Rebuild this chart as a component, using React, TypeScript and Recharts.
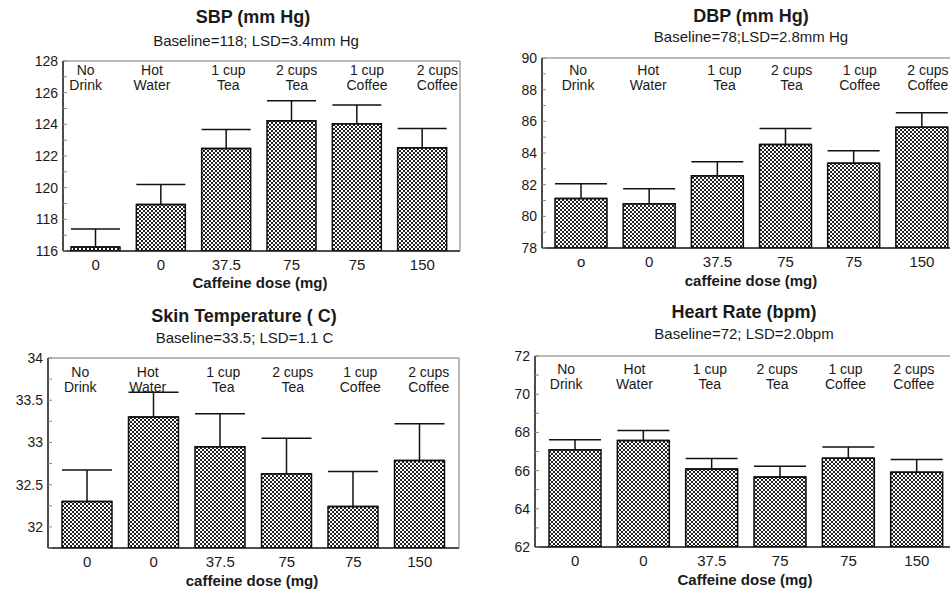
import React from "react";
import { BarChart, Bar, XAxis, YAxis, ErrorBar } from "recharts";

// drink conditions, printed inside the top of each plot
const drinks = [
    ["No", "Drink"],
    ["Hot", "Water"],
    ["1 cup", "Tea"],
    ["2 cups", "Tea"],
    ["1 cup", "Coffee"],
    ["2 cups", "Coffee"],
];
const doses = ["0", "0", "37.5", "75", "75", "150"];
const dosesDbp = ["o", "0", "37.5", "75", "75", "150"];

// means and the upward error
const sbpMean = [116.25, 118.93, 122.48, 124.23, 124.04, 122.52];
const sbpErr = [1.14, 1.27, 1.2, 1.26, 1.18, 1.22];
const dbpMean = [81.13, 80.79, 82.56, 84.53, 83.35, 85.63];
const dbpErr = [0.93, 0.95, 0.89, 1.01, 0.8, 0.91];
const skinMean = [32.3, 33.3, 32.95, 32.63, 32.24, 32.785];
const skinErr = [0.375, 0.295, 0.39, 0.42, 0.415, 0.435];
const hrMean = [67.09, 67.57, 66.08, 65.66, 66.65, 65.92];
const hrErr = [0.52, 0.53, 0.55, 0.57, 0.59, 0.66];

// y ticks (all tick marks) and the ones that carry a label
const sbpTicks = [116, 117, 118, 119, 120, 121, 122, 123, 124, 125, 126, 127, 128];
const sbpLabels = [116, 118, 120, 122, 124, 126, 128];
const dbpTicks = [78, 79, 80, 81, 82, 83, 84, 85, 86, 87, 88, 89, 90];
const dbpLabels = [78, 80, 82, 84, 86, 88, 90];
const skinTicks = [31.75, 32, 32.25, 32.5, 32.75, 33, 33.25, 33.5, 33.75, 34];
const skinLabels = [32, 32.5, 33, 33.5, 34];
const hrTicks = [62, 63, 64, 65, 66, 67, 68, 69, 70, 71, 72];
const hrLabels = [62, 64, 66, 68, 70, 72];

const FONT = "'Liberation Sans', Arial, Helvetica, sans-serif";
const INK = "#1a1a1a";
const Y_W = 50;
const X_H = 40;
const M_TOP = 12;
const TOP_H = 1;

const panels = [
    {
        id: "sbp",
        title: "SBP (mm Hg)",
        subtitle: "Baseline=118; LSD=3.4mm Hg",
        xTitle: "Caffeine dose (mg)",
        mean: sbpMean,
        err: sbpErr,
        doses: doses,
        ticks: sbpTicks,
        labels: sbpLabels,
        domain: [116, 128],
        left: 63,
        top: 61,
        right: 460,
        bottom: 251,
        pad: [0, 5],
        barSize: 49,
        catDy: 14,
        catDx: [-10, -9, 2, 5, 10, 15],
        titleX: 253,
        titleY: 23,
        subX: 256,
        subY: 45.5,
        xTitleX: 260,
        xTitleY: 287.5,
    },
    {
        id: "dbp",
        title: "DBP (mm Hg)",
        subtitle: "Baseline=78;LSD=2.8mm Hg",
        xTitle: "caffeine dose (mg)",
        mean: dbpMean,
        err: dbpErr,
        doses: dosesDbp,
        ticks: dbpTicks,
        labels: dbpLabels,
        domain: [78, 90],
        left: 542,
        top: 58,
        right: 961,
        bottom: 248,
        pad: [5, 5],
        barSize: 52,
        catDy: 16.5,
        catDx: [-3, -1, 7, 6, 6, 6],
        titleX: 751,
        titleY: 21.5,
        subX: 751,
        subY: 41.5,
        xTitleX: 751,
        xTitleY: 285.5,
    },
    {
        id: "skin",
        title: "Skin Temperature ( C)",
        subtitle: "Baseline=33.5; LSD=1.1 C",
        xTitle: "caffeine dose (mg)",
        mean: skinMean,
        err: skinErr,
        doses: doses,
        ticks: skinTicks,
        labels: skinLabels,
        domain: [31.75, 34],
        left: 48,
        top: 358,
        right: 459,
        bottom: 548,
        pad: [6, 6],
        barSize: 50,
        catDy: 18.5,
        catDx: [-7, -6, 3, 6, 7, 9],
        titleX: 244,
        titleY: 322,
        subX: 244.5,
        subY: 342.5,
        xTitleX: 252,
        xTitleY: 585.5,
    },
    {
        id: "hr",
        title: "Heart Rate (bpm)",
        subtitle: "Baseline=72; LSD=2.0bpm",
        xTitle: "Caffeine dose (mg)",
        mean: hrMean,
        err: hrErr,
        doses: doses,
        ticks: hrTicks,
        labels: hrLabels,
        domain: [62, 72],
        left: 535,
        top: 356,
        right: 957,
        bottom: 547,
        pad: [6, 6],
        barSize: 52,
        catDy: 18,
        catDx: [-9, -9, -2, -3, -3, -3],
        titleX: 744,
        titleY: 318,
        subX: 744,
        subY: 339,
        xTitleX: 745,
        xTitleY: 585,
    },
];

const YTick = ({ x, y, payload, labels }: any) => {
    const major = labels.includes(payload.value);
    return (
        <g>
            <line x1={x} x2={x + 4} y1={y} y2={y} stroke="#888" strokeWidth={1} />
            {major && (
                <text x={x - 5} y={y + 5} textAnchor="end" fontSize={14} fill={INK} fontFamily={FONT}>
                    {payload.value}
                </text>
            )}
        </g>
    );
};

const DoseTick = ({ x, y, payload }: any) => (
    <text x={x} y={y + 18.5} textAnchor="middle" fontSize={15} fill={INK} fontFamily={FONT}>
        {payload.value}
    </text>
);

const DrinkTick = ({ x, y, payload, dy, dx }: any) => {
    const lines = drinks[payload.index];
    const cx = x + dx[payload.index];
    return (
        <text textAnchor="middle" fontSize={14} fill={INK} fontFamily={FONT}>
            <tspan x={cx} y={y + dy}>{lines[0]}</tspan>
            <tspan x={cx} y={y + dy + 15}>{lines[1]}</tspan>
        </text>
    );
};

const Panel = ({ p }: any) => {
    const data = p.mean.map((m: number, i: number) => ({
        drink: drinks[i].join(" "),
        dose: p.doses[i],
        mean: m,
        err: [0, p.err[i]],
    }));
    const plotW = p.right - p.left;
    const plotH = p.bottom - p.top;

    return (
        <div style={{ position: "absolute", left: p.left - Y_W, top: p.top - M_TOP - TOP_H }}>
            <BarChart
                width={Y_W + plotW + 1}
                height={M_TOP + TOP_H + plotH + X_H}
                data={data}
                margin={{ top: M_TOP, right: 0, left: 0, bottom: 0 }}
            >
                <defs>
                    <pattern id={`dots-${p.id}`} width={4} height={4} patternUnits="userSpaceOnUse">
                        <rect width={4} height={4} fill="#fff" />
                        <rect x={0} y={0} width={2} height={2} fill="#222" />
                        <rect x={2} y={2} width={2} height={2} fill="#222" />
                    </pattern>
                </defs>
                <XAxis
                    dataKey="dose"
                    height={X_H}
                    interval={0}
                    padding={{ left: p.pad[0], right: p.pad[1] }}
                    tickSize={0}
                    tickMargin={0}
                    tickLine={false}
                    axisLine={{ stroke: "#111", strokeWidth: 1.5 }}
                    tick={<DoseTick />}
                />
                <XAxis
                    xAxisId="top"
                    dataKey="drink"
                    orientation="top"
                    height={TOP_H}
                    interval={0}
                    padding={{ left: p.pad[0], right: p.pad[1] }}
                    tickSize={0}
                    tickMargin={0}
                    tickLine={false}
                    axisLine={{ stroke: "#777", strokeWidth: 1 }}
                    tick={<DrinkTick dy={p.catDy} dx={p.catDx} />}
                />
                <YAxis
                    width={Y_W}
                    type="number"
                    domain={p.domain}
                    ticks={p.ticks}
                    allowDataOverflow
                    interval={0}
                    tickSize={0}
                    tickMargin={0}
                    tickLine={false}
                    axisLine={{ stroke: "#111", strokeWidth: 1.5 }}
                    tick={<YTick labels={p.labels} />}
                />
                <YAxis
                    yAxisId="frame"
                    orientation="right"
                    width={1}
                    domain={[0, 1]}
                    tick={false}
                    tickLine={false}
                    axisLine={{ stroke: "#777", strokeWidth: 1 }}
                />
                <Bar
                    dataKey="mean"
                    fill={`url(#dots-${p.id})`}
                    stroke="#111"
                    strokeWidth={1.5}
                    barSize={p.barSize}
                    isAnimationActive={false}
                >
                    <ErrorBar
                        dataKey="err"
                        direction="y"
                        width={p.barSize / 2}
                        stroke="#111"
                        strokeWidth={1.5}
                        isAnimationActive={false}
                    />
                </Bar>
            </BarChart>
        </div>
    );
};

const App: React.FC = () => {
    return (
        <div
            style={{
                position: "fixed",
                left: 0,
                top: 0,
                width: 950,
                height: 590,
                overflow: "hidden",
                background: "#fff",
                fontFamily: FONT,
            }}
        >
            {panels.map((p) => (
                <Panel key={p.id} p={p} />
            ))}
            <svg width={950} height={590} style={{ position: "absolute", left: 0, top: 0, pointerEvents: "none" }}>
                {panels.map((p) => (
                    <g key={p.id} fontFamily={FONT} fill={INK} textAnchor="middle">
                        <text x={p.titleX} y={p.titleY} fontSize={18} fontWeight="bold">
                            {p.title}
                        </text>
                        <text x={p.subX} y={p.subY} fontSize={15}>
                            {p.subtitle}
                        </text>
                        <text x={p.xTitleX} y={p.xTitleY} fontSize={15} fontWeight="bold">
                            {p.xTitle}
                        </text>
                    </g>
                ))}
            </svg>
        </div>
    );
};

export default App;
